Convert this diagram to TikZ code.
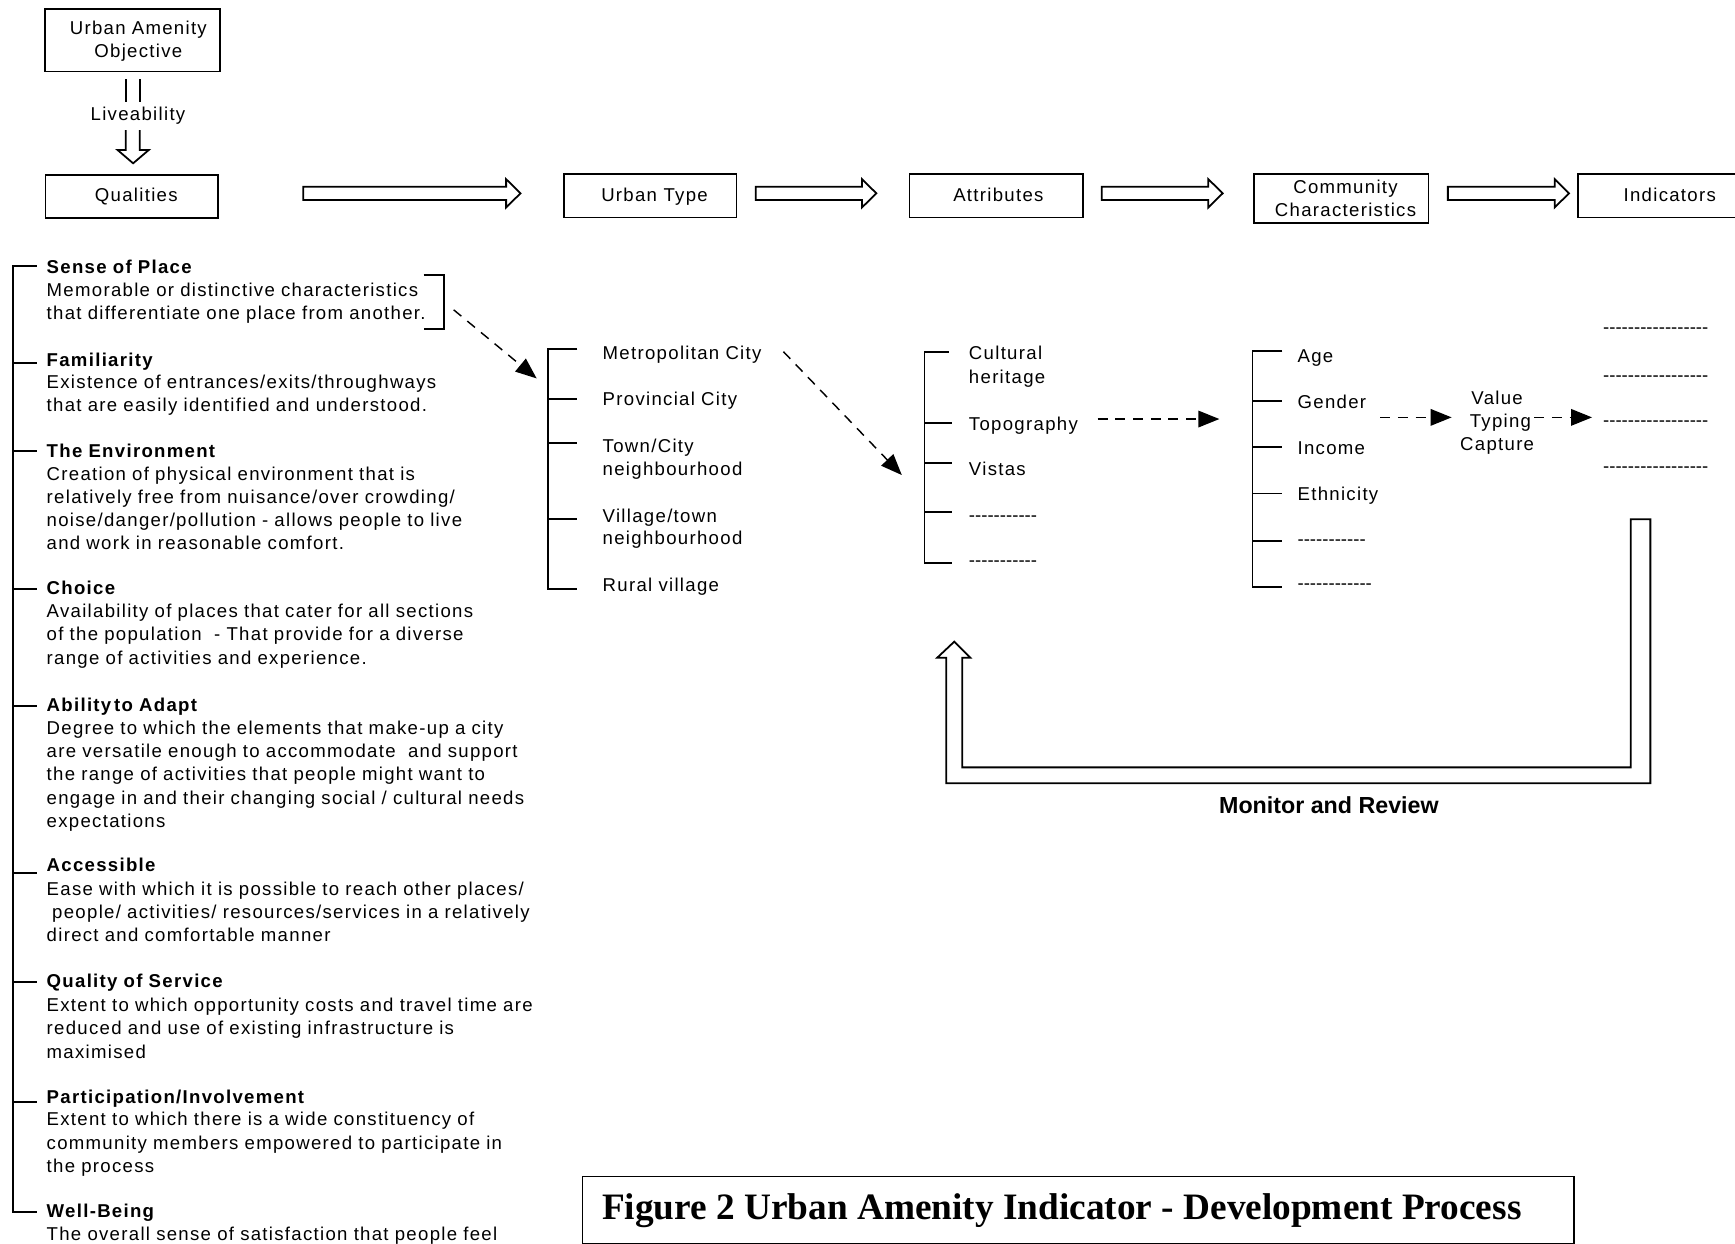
\documentclass[tikz,border=0pt]{standalone}
\usepackage{fontspec}
\setmainfont{Liberation Sans}[LetterSpace=7]
\newfontfamily\plainsans{Liberation Sans}
\newfontfamily\capserif{Liberation Serif}
\usetikzlibrary{arrows.meta,calc}
\newcommand\hy[1]{\foreach \i in {1,...,#1}{\mbox{-}}}
\begin{document}
\begin{tikzpicture}[x=0.5pt,y=-0.5pt,
  ln/.style={line width=0.8pt},
  box/.style={draw,line width=0.8pt,inner sep=0pt},
  txt/.style={inner sep=0pt,font=\fontsize{8.4}{10.5}\selectfont},
  lbl/.style={txt,anchor=base},
  itm/.style={txt,anchor=base west,text width=250pt,align=left},
  dsh/.style={inner sep=0pt,font=\plainsans\fontsize{8.4}{10.5}\selectfont,anchor=base west},
  darr/.style={line width=0.65pt,dash pattern=on 4.5pt off 3.5pt,-{Triangle[length=9.5pt,width=7.5pt]}},
  blk/.style={draw,line width=0.8pt,fill=white,line join=miter},
]
\useasboundingbox (0,0) rectangle (1568,1124);
\clip (0,0) rectangle (1568,1124);

% ---------- top boxes ----------
\node[box,minimum width=79pt,minimum height=28.25pt] (obj) at (120,36.3) {};
\node[txt,anchor=base,align=center,text width=80pt,font=\fontsize{8.4}{10.1}\selectfont] (objt) at (125,31.6) {Urban Amenity\\Objective};

\draw[ln] (113.7,71.5) -- (113.7,92.2);
\draw[ln] (126.4,71.5) -- (126.4,92.2);
\node[lbl] (liv) at (124.7,109) {Liveability};
\draw[ln] (113.7,117.5) -- (113.7,135.6) -- (106.3,135.6) -- (120.3,147.6) -- (134.4,135.6) -- (126.4,135.6) -- (126.4,117.5);

\node[box,minimum width=78pt,minimum height=19.5pt] (qual) at (119.2,177.7) {};
\node[lbl] (qualt) at (123.2,181.7) {Qualities};

\node[box,minimum width=78.1pt,minimum height=19.55pt] (utype) at (587.6,177.1) {};
\node[lbl] (utypet) at (591.5,181.7) {Urban Type};

\node[box,minimum width=78.2pt,minimum height=19.55pt] (attr) at (900.2,177.1) {};
\node[lbl] (attrt) at (902.3,181.7) {Attributes};

\node[box,minimum width=79pt,minimum height=22.15pt] (cc) at (1212,179.7) {};
\node[txt,anchor=base,align=center,text width=80pt,font=\fontsize{8.4}{10.55}\selectfont] (cct) at (1216,174.7) {Community\\Characteristics};

\node[box,minimum width=107pt,minimum height=19.55pt] (ind) at (1533,177.1) {};
\node[lbl] (indt) at (1509,181.7) {Indicators};

% block arrows
\draw[blk] (274,168.7) -- (457.4,168.7) -- (457.4,161.9) -- (470.4,174.7) -- (457.4,187.5) -- (457.4,180.7) -- (274,180.7) -- cycle;
\draw[blk] (683,168.7) -- (779,168.7) -- (779,161.9) -- (792,174.7) -- (779,187.5) -- (779,180.7) -- (683,180.7) -- cycle;
\draw[blk] (995.7,168.7) -- (1092,168.7) -- (1092,161.9) -- (1105,174.7) -- (1092,187.5) -- (1092,180.7) -- (995.7,180.7) -- cycle;
\draw[blk] (1308.5,168.7) -- (1405,168.7) -- (1405,161.9) -- (1418,174.7) -- (1405,187.5) -- (1405,180.7) -- (1308.5,180.7) -- cycle;

% ---------- qualities list ----------
\draw[ln] (33.4,240.4) -- (11.7,240.4) -- (11.7,1095) -- (33.4,1095);
\foreach \y in {327.8,407.3,532,638,788.7,887.8,995.6}
  \draw[ln] (11.7,\y) -- (33.4,\y);

\node[itm] (q1) at (41.8,247.6) {\textbf{Sense of Place}\\[-0.25pt]Memorable or distinctive characteristics\\that differentiate one place from another.};
\node[itm] (q2) at (41.8,330.8) {\textbf{Familiarity}\\[-0.25pt]Existence of entrances/exits/throughways\\that are easily identified and understood.};
\node[itm] (q3) at (41.8,413.3) {\textbf{The Environment}\\[-0.25pt]Creation of physical environment that is\\relatively free from nuisance/over crowding/\\noise/danger/pollution - allows people to live\\and work in reasonable comfort.};
\node[itm] (q4) at (41.8,537.7) {\textbf{Choice}\\[-0.25pt]Availability of places that cater for all sections\\of the population\ \ - That provide for a diverse\\range of activities and experience.};
\node[itm] (q5) at (41.8,643.3) {\textbf{Ability\kern0.15em to Adapt}\\[-0.25pt]Degree to which the elements that make-up a city\\are versatile enough to accommodate\ \ and support\\the range of activities that people might want to\\engage in and their changing social / cultural needs\\expectations};
\node[itm] (q6) at (41.8,787.5) {\textbf{Accessible}\\[0.25pt]Ease with which it is possible to reach other places/\\\hspace*{2.5pt}people/ activities/ resources/services in a relatively\\direct and comfortable manner};
\node[itm] (q7) at (41.8,892.8) {\textbf{Quality of Service}\\[0.25pt]Extent to which opportunity costs and travel time are\\reduced and use of existing infrastructure is\\maximised};
\node[itm] (q8) at (41.8,997) {\textbf{Participation/Involvement}\\[-0.25pt]Extent to which there is a wide constituency of\\community members empowered to participate in\\the process};
\node[itm] (q9) at (41.8,1100.4) {\textbf{Well-Being}\\[-0.25pt]The overall sense of satisfaction that people feel};

\draw[ln] (382.8,248.5) -- (401,248.5) -- (401,297.6) -- (382.8,297.6);

% ---------- urban type list ----------
\draw[ln] (521.8,315.7) -- (495.2,315.7) -- (495.2,532.6) -- (521.8,532.6);
\foreach \y in {360.9,400.7,469.3}
  \draw[ln] (495.2,\y) -- (521.8,\y);
\node[itm] (u1) at (544.3,325.3) {Metropolitan City};
\node[itm] (u2) at (544.3,366.9) {Provincial City};
\node[itm] (u3) at (544.3,408.6) {Town/City\\neighbourhood};
\node[itm] (u4) at (544.3,471.8) {Village/town\\[-0.5pt]neighbourhood};
\node[itm] (u5) at (544.3,534.7) {Rural village};

% ---------- attributes list ----------
\draw[ln] (857.3,317.8) -- (835.5,317.8) -- (835.5,509.1) -- (860.8,509.1);
\foreach \y in {382.6,418.7,462.4}
  \draw[ln] (835.5,\y) -- (860.8,\y);
\node[itm] (a1) at (875.3,325.3) {Cultural\\heritage};
\node[itm] (a2) at (875.3,389.2) {Topography};
\node[itm] (a3) at (875.3,430.1) {Vistas};
\node[dsh] (a4) at (875.3,470.9) {\hy{11}};
\node[dsh] (a5) at (875.3,512.2) {\hy{11}};

% ---------- community characteristics list ----------
\draw[ln] (1159,317.2) -- (1132,317.2) -- (1132,530.2) -- (1159,530.2);
\foreach \y in {362.1,403.7,445.9,488.6}
  \draw[ln] (1132,\y) -- (1159,\y);
\node[itm] (c1) at (1172.3,327.4) {Age};
\node[itm] (c2) at (1172.3,369) {Gender};
\node[itm] (c3) at (1172.3,410.3) {Income};
\node[itm] (c4) at (1172.3,451.9) {Ethnicity};
\node[dsh] (c5) at (1172.3,492.6) {\hy{11}};
\node[dsh] (c6) at (1172.3,533.2) {\hy{12}};

\node[txt,anchor=base,align=center,text width=45pt] (vtc) at (1353,365.4) {Value\\\hspace*{3pt}Typing\\Capture};

% ---------- indicators ----------
\node[dsh] (i1) at (1448.4,301.3) {\hy{17}};
\node[dsh] (i2) at (1448.4,344.4) {\hy{17}};
\node[dsh] (i3) at (1448.4,385.7) {\hy{17}};
\node[dsh] (i4) at (1448.4,427.3) {\hy{17}};

% ---------- dashed arrows ----------
\coordinate (d1s) at (410,280);   \coordinate (d1e) at (485,342);
\coordinate (d2s) at (708,317.8); \coordinate (d2e) at (815,429.3);
\coordinate (d3s) at (992,378.7); \coordinate (d3e) at (1102,378.7);
\coordinate (d4s) at (1247.4,377.2); \coordinate (d4e) at (1311.9,377.2);
\coordinate (d5s) at (1386.5,377.2); \coordinate (d5e) at (1438.8,377.2);
\draw[darr] (d1s) -- (d1e);
\draw[darr] (d2s) -- (d2e);
\draw[darr] (d3s) -- (d3e);
\draw[darr] (d4s) -- (d4e);
\draw[darr] (d5s) -- (d5e);

% ---------- feedback loop ----------
\draw[blk] (1473.7,469.3) -- (1491.5,469.3) -- (1491.5,707.9) -- (855.2,707.9) -- (855.2,594.4) -- (847,594.4) -- (862.4,579.9) -- (876.9,594.4) -- (869.7,594.4) -- (869.7,693.5) -- (1473.7,693.5) -- cycle;
\node[anchor=base,inner sep=0pt,font=\plainsans\bfseries\fontsize{10.5}{12}\selectfont] (mr) at (1201,735) {Monitor and Review};

% ---------- caption ----------
\node[box,anchor=north west,minimum width=448.1pt,minimum height=30.25pt] (capbox) at (525.7,1062.5) {};
\node[anchor=base west,inner sep=0pt,font=\capserif\bfseries\fontsize{16.85}{20}\selectfont] (cap) at (543.8,1102) {Figure 2 Urban Amenity Indicator - Development Process};
\end{tikzpicture}
\end{document}
